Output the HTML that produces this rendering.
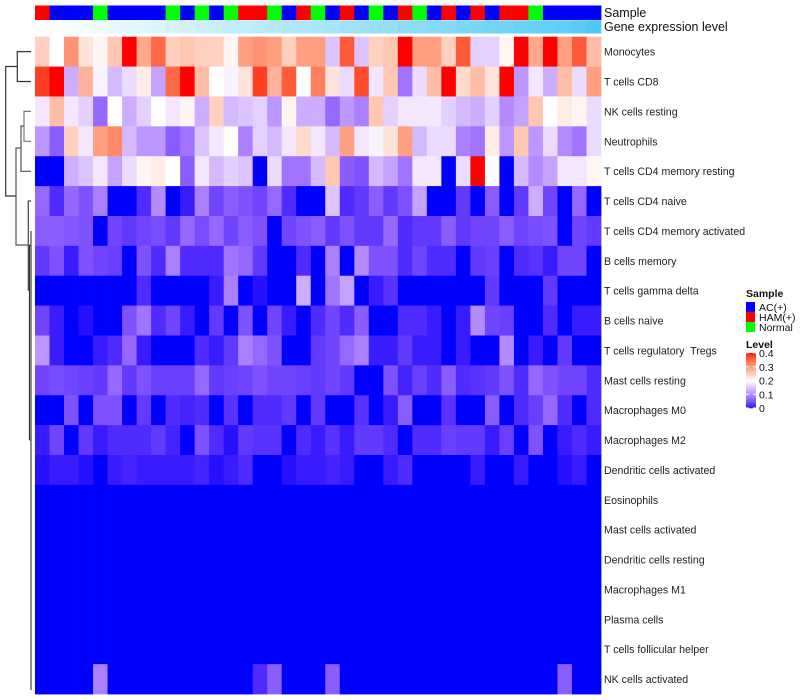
<!DOCTYPE html>
<html><head><meta charset="utf-8"><style>
html,body{margin:0;padding:0;background:#fff;}
svg{display:block;font-family:"Liberation Sans",sans-serif;}
text{white-space:pre;}
</style></head><body>
<svg id="chart" width="800" height="700" viewBox="0 0 800 700" xmlns="http://www.w3.org/2000/svg">
<g id="dendro" fill="none" stroke-width="1.2">
  <path d="M31,51.6H17.3V81.5H31" stroke="#333"/>
  <path d="M31,111.4H24V141.3H31" stroke="#777"/>
  <path d="M24,126H21V171.3H31" stroke="#555"/>
  <path d="M21,148H16V245H28.3" stroke="#555"/>
  <path d="M17.3,66.5H5.7V196H16" stroke="#333"/>
  <path d="M31,201H28.3V290H29.5" stroke="#444"/>
  <path d="M29.5,245V440" stroke="#333"/>
  <path d="M31,231V690" stroke="#444"/>
  <path d="M29.5,245H31M29.5,440H31" stroke="#444"/>
</g>
<g id="cells"></g>
<g id="annot"></g>
<g id="labels" font-size="10.6" fill="#222"></g>
<text x="604" y="17" font-size="12.5" fill="#111">Sample</text>
<text x="604" y="31" font-size="12.5" fill="#111">Gene expression level</text>
<g font-size="10.5" fill="#111">
  <text x="746" y="297" font-weight="bold">Sample</text>
  <rect x="746" y="302" width="9" height="10" fill="#0000FF"/>
  <text x="759" y="311">AC(+)</text>
  <rect x="746" y="312" width="9" height="10" fill="#FF0000"/>
  <text x="759" y="321">HAM(+)</text>
  <rect x="746" y="322" width="9" height="10" fill="#00FF00"/>
  <text x="759" y="331">Normal</text>
  <text x="746" y="348" font-weight="bold">Level</text>
</g>
<g id="cbar"></g>
</svg>
<script>
var categories = ["Monocytes","T cells CD8","NK cells resting","Neutrophils","T cells CD4 memory resting","T cells CD4 naive","T cells CD4 memory activated","B cells memory","T cells gamma delta","B cells naive","T cells regulatory  Tregs","Mast cells resting","Macrophages M0","Macrophages M2","Dendritic cells activated","Eosinophils","Mast cells activated","Dendritic cells resting","Macrophages M1","Plasma cells","T cells follicular helper","NK cells activated"];
var sampleGroups = "R B B B G B B B B G B G B G R R G B R G B R B G B R G B R B R B R R G B B B B".split(" ");
var geneLevel = [0,0.02,0.05,0.07,0.1,0.12,0.15,0.17,0.2,0.22,0.25,0.28,0.3,0.33,0.35,0.38,0.4,0.43,0.45,0.48,0.5,0.53,0.55,0.58,0.6,0.63,0.65,0.68,0.7,0.73,0.75,0.78,0.8,0.83,0.85,0.88,0.9,0.95,1];
var legendTicks = [0,0.1,0.2,0.3,0.4];
var r1 = [.25,.20,.31,.23,.21,.26,.40,.29,.35,.25,.26,.25,.25,.21,.30,.31,.30,.25,.30,.30,.15,.36,.15,.25,.26,.40,.30,.30,.25,.36,.16,.16,.21,.40,.29,.40,.30,.36,.27];
var r2 = [.38,.40,.13,.28,.19,.14,.17,.22,.12,.35,.40,.27,.20,.19,.23,.38,.28,.36,.20,.33,.23,.17,.37,.18,.26,.08,.17,.27,.40,.24,.27,.23,.40,.11,.18,.13,.27,.17,.30];
var r3 = [.18,.27,.18,.16,.07,.20,.13,.16,.20,.18,.21,.13,.25,.14,.15,.16,.11,.21,.13,.13,.07,.11,.09,.26,.16,.18,.18,.18,.16,.14,.13,.16,.10,.12,.26,.20,.22,.21,.17];
var r4 = [.11,.06,.25,.18,.30,.32,.14,.11,.11,.06,.08,.15,.18,.20,.09,.16,.14,.18,.24,.18,.14,.30,.18,.19,.23,.30,.14,.17,.17,.09,.08,.22,.11,.26,.11,.17,.10,.08,.17];
var r5 = [0,0,.13,.15,.18,.12,.17,.21,.22,.20,.06,.18,.14,.16,.15,0,.17,.08,.08,.14,.26,.06,.05,.14,.12,.08,.18,.18,0,.17,.40,.20,0,.14,.10,.12,.18,.18,.21];
var r6 = [.07,.02,.07,.05,.09,0,0,.02,.10,0,.01,.09,.04,.06,.05,.04,.07,.02,0,0,.15,.02,.03,.06,.03,.05,.12,0,0,.03,0,.06,0,.03,.13,.04,0,.07,0];
var r7 = [.06,.06,.055,.05,0,.04,.03,.04,.045,.03,.07,.045,.07,.04,.06,.05,0,.04,.05,.06,.03,.05,.03,.03,.07,.02,.03,.03,.06,.03,.04,.04,.06,.04,.045,.05,0,.04,.03];
var r8 = [.03,.05,.01,.05,.04,.035,0,.05,.02,.09,.02,.02,.02,.08,.07,.03,0,0,.02,0,.09,0,.10,.05,.05,.02,.04,.02,.02,0,.03,.035,0,.02,.025,.01,.04,.04,0];
var r9 = [0,0,0,0,0,0,0,.02,0,0,0,0,.01,.09,0,.005,0,0,.13,0,.08,.12,0,.01,.025,0,0,0,0,0,0,.03,0,0,0,.03,0,0,0];
var r10 = [.04,.01,0,.005,0,0,.05,.08,.02,.04,.01,0,.03,0,.05,0,.04,.01,0,.02,.04,.02,.06,0,0,.02,.02,.01,0,.01,.10,.04,.035,0,0,.02,0,.01,.01];
var r11 = [.11,.01,0,0,.01,.02,.07,.01,0,0,0,.02,.01,.03,.09,.07,.05,0,0,.03,.04,.07,.09,.01,.01,.03,.01,.01,0,.01,0,0,.10,0,.01,0,.03,0,0];
var r12 = [.04,.045,.04,.035,.03,.07,.03,.05,.035,.035,.035,.07,.03,.035,.04,.05,.04,.04,.035,.03,.04,.03,0,0,.05,.015,.035,.02,.06,.02,.025,.03,.05,.02,.07,.05,.04,.04,.02];
var r13 = [0,0,.05,0,.05,.05,0,.03,0,.02,.015,.02,0,.025,0,.02,.02,.03,0,.03,0,0,.025,0,.01,.06,0,0,.025,0,0,.06,0,.02,.035,.07,.02,0,.02];
var r14 = [.01,.04,0,.03,.01,.02,.02,.02,.03,.015,0,.05,.02,.005,.03,.025,.025,0,.02,.01,.025,.01,.03,.03,.02,0,.02,.02,.035,.03,.03,.01,.035,0,.05,0,.01,.02,.01];
var r15 = [.005,.01,.01,.005,0,.01,.015,.01,.01,.01,.01,.015,.005,.01,.02,0,0,.005,.01,.01,.015,.01,0,0,.01,.02,0,0,0,0,.01,0,0,.01,0,0,.005,.01,0];
var r16 = [0,0,0,0,0,0,0,0,0,0,0,0,0,0,0,0,0,0,0,0,0,0,0,0,0,0,0,0,0,0,0,0,0,0,0,0,0,0,0];
var r17 = [0,0,0,0,0,0,0,0,0,0,0,0,0,0,0,0,0,0,0,0,0,0,0,0,0,0,0,0,0,0,0,0,0,0,0,0,0,0,0];
var r18 = [0,0,0,0,0,0,0,0,0,0,0,0,0,0,0,0,0,0,0,0,0,0,0,0,0,0,0,0,0,0,0,0,0,0,0,0,0,0,0];
var r19 = [0,0,0,0,0,0,0,0,0,0,0,0,0,0,0,0,0,0,0,0,0,0,0,0,0,0,0,0,0,0,0,0,0,0,0,0,0,0,0];
var r20 = [0,0,0,0,0,0,0,0,0,0,0,0,0,0,0,0,0,0,0,0,0,0,0,0,0,0,0,0,0,0,0,0,0,0,0,0,0,0,0];
var r21 = [0,0,0,0,0,0,0,0,0,0,0,0,0,0,0,0,0,0,0,0,0,0,0,0,0,0,0,0,0,0,0,0,0,0,0,0,0,0,0];
var r22 = [0,0,0,0,.09,0,0,0,0,0,0,0,0,0,0,.02,.06,0,0,0,.06,0,0,0,0,0,0,0,0,0,0,0,0,0,0,0,.06,0,0];
var values = [r1,r2,r3,r4,r5,r6,r7,r8,r9,r10,r11,r12,r13,r14,r15,r16,r17,r18,r19,r20,r21,r22];

var NS = "http://www.w3.org/2000/svg";
var X0 = 35, X1 = 601, Y0 = 36.7, Y1 = 694;
var nCol = sampleGroups.length;
var cw = (X1 - X0) / nCol, ch = (Y1 - Y0) / categories.length;
function xPos(i){ return X0 + i * cw; }
function yPos(j){ return Y0 + j * ch; }

function toLab(rgb){
  var c = rgb.map(function(v){ v/=255; return v>0.04045?Math.pow((v+0.055)/1.055,2.4):v/12.92; });
  var x=(c[0]*0.4124+c[1]*0.3576+c[2]*0.1805)/0.95047, y=c[0]*0.2126+c[1]*0.7152+c[2]*0.0722, z=(c[0]*0.0193+c[1]*0.1192+c[2]*0.9505)/1.08883;
  function f(t){ return t>0.008856?Math.cbrt(t):7.787*t+16/116; }
  return [116*f(y)-16, 500*(f(x)-f(y)), 200*(f(y)-f(z))];
}
function fromLab(l){
  var fy=(l[0]+16)/116, fx=fy+l[1]/500, fz=fy-l[2]/200;
  function g(t){ return t*t*t>0.008856?t*t*t:(t-16/116)/7.787; }
  var x=g(fx)*0.95047, y=g(fy), z=g(fz)*1.08883;
  var r=x*3.2406+y*-1.5372+z*-0.4986, gg=x*-0.9689+y*1.8758+z*0.0415, b=x*0.0557+y*-0.2040+z*1.0570;
  return "rgb(" + [r,gg,b].map(function(v){ v=v>0.0031308?1.055*Math.pow(v,1/2.4)-0.055:12.92*v; return Math.round(Math.max(0,Math.min(1,v))*255); }).join(",") + ")";
}
var LB = toLab([0,0,255]), LW = toLab([255,255,255]), LR = toLab([255,0,0]);
function color(v){
  v = Math.max(0, Math.min(0.4, v));
  var a, b, t;
  if (v <= 0.2){ a = LB; b = LW; t = v/0.2; } else { a = LW; b = LR; t = (v-0.2)/0.2; }
  return fromLab([0,1,2].map(function(k){ return a[k] + (b[k]-a[k])*t; }));
}
function geneColor(v){
  var r = Math.round(255 + (76-255)*v), g = Math.round(255 + (200-255)*v), b = Math.round(255 + (246-255)*v);
  return "rgb(" + r + "," + g + "," + b + ")";
}
var groupColor = {R:"#FF0000", B:"#0000FF", G:"#00FF00"};

var cells = document.getElementById("cells");
values.forEach(function(row, j){
  row.forEach(function(v, i){
    var r = document.createElementNS(NS, "rect");
    r.setAttribute("x", xPos(i)); r.setAttribute("y", yPos(j));
    r.setAttribute("width", cw + 0.4); r.setAttribute("height", ch + 0.4);
    r.setAttribute("fill", color(v));
    
    
    cells.appendChild(r);
  });
});

var annot = document.getElementById("annot");
sampleGroups.forEach(function(g, i){
  var r = document.createElementNS(NS, "rect");
  r.setAttribute("x", xPos(i)); r.setAttribute("y", 5.5);
  r.setAttribute("width", cw + 0.4); r.setAttribute("height", 14.5);
  r.setAttribute("fill", groupColor[g]);
  
  
  annot.appendChild(r);
});
geneLevel.forEach(function(v, i){
  var r = document.createElementNS(NS, "rect");
  r.setAttribute("x", xPos(i)); r.setAttribute("y", 20.3);
  r.setAttribute("width", cw + 0.4); r.setAttribute("height", 13.2);
  r.setAttribute("fill", geneColor(v));
  
  
  annot.appendChild(r);
});

var labels = document.getElementById("labels");
categories.forEach(function(c, j){
  var t = document.createElementNS(NS, "text");
  t.setAttribute("x", 604); t.setAttribute("y", yPos(j) + ch/2 + 4);
  t.setAttribute("xml:space", "preserve");
  t.textContent = c;
  
  
  labels.appendChild(t);
});

var cbar = document.getElementById("cbar");
var CB0 = 353, CB1 = 408, steps = 60;
for (var k = 0; k < steps; k++){
  var v = 0.4 - 0.4 * k / steps;
  var r = document.createElementNS(NS, "rect");
  r.setAttribute("x", 746); r.setAttribute("y", CB0 + (CB1-CB0)*k/steps);
  r.setAttribute("width", 10); r.setAttribute("height", (CB1-CB0)/steps + 0.3);
  r.setAttribute("fill", color(v));
  
  
  cbar.appendChild(r);
}
legendTicks.forEach(function(v){
  var y = CB1 - (CB1-CB0) * v / 0.4;
  var l = document.createElementNS(NS, "path");
  l.setAttribute("d", "M746," + y + "H749M753," + y + "H756");
  l.setAttribute("stroke", "#fff"); l.setAttribute("stroke-width", "1");
  
  
  cbar.appendChild(l);
  var t = document.createElementNS(NS, "text");
  t.setAttribute("x", 759); t.setAttribute("y", y + 4);
  t.setAttribute("font-size", "10.5"); t.setAttribute("fill", "#111");
  t.textContent = String(v);
  
  
  cbar.appendChild(t);
});
</script>
</body></html>
